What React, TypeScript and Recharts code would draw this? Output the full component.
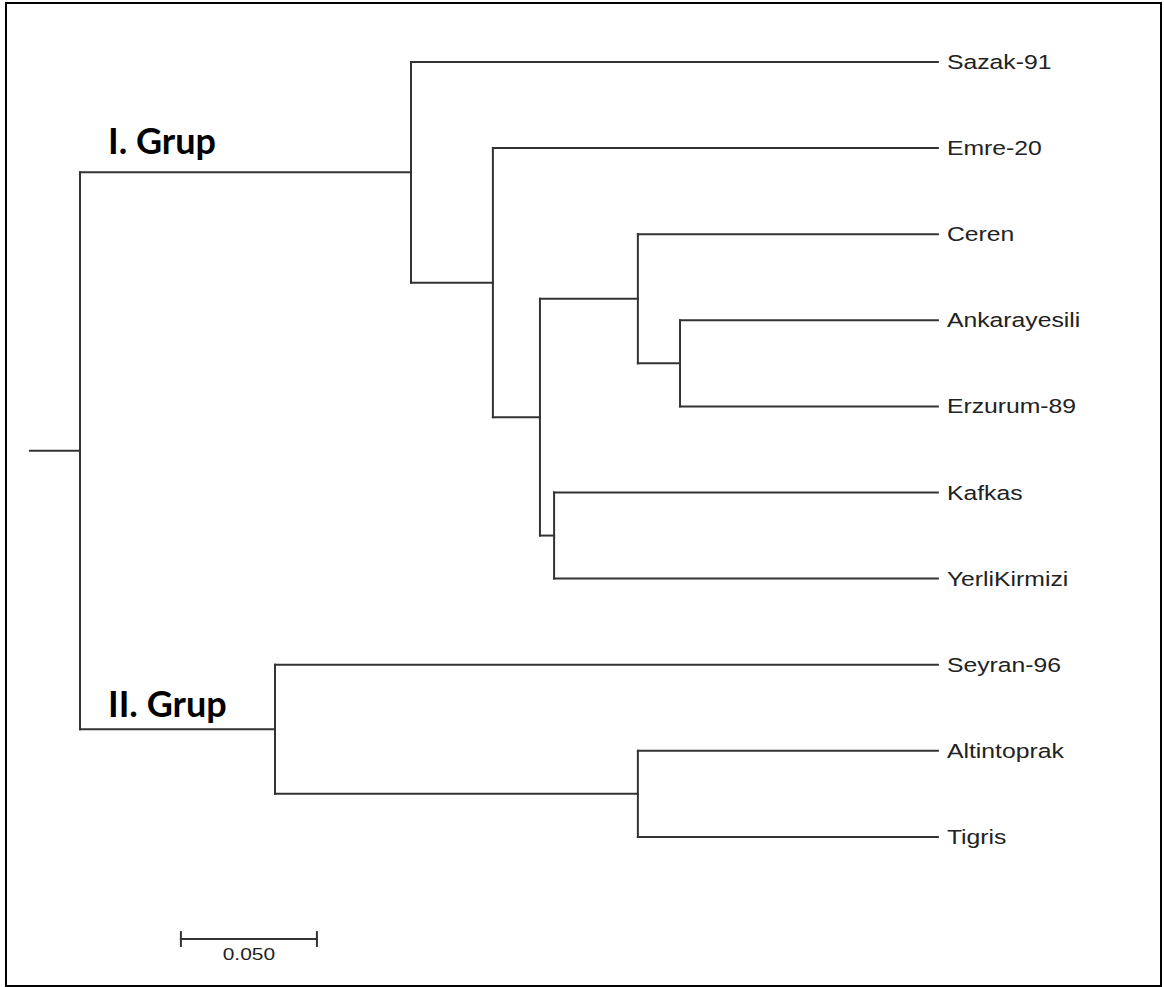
import React from "react";
import { ScatterChart, Scatter, XAxis, YAxis, ReferenceLine } from "recharts";

// leaves top to bottom
const leafNames = [
  "Sazak-91",
  "Emre-20",
  "Ceren",
  "Ankarayesili",
  "Erzurum-89",
  "Kafkas",
  "YerliKirmizi",
  "Seyran-96",
  "Altintoprak",
  "Tigris",
];
const LEAF_DEPTH = 0.3154;

// internal nodes: id, distance from root, children
const nodeIds = ["root", "g1", "n1", "n2", "n3", "n4", "n5", "g2", "n6"];
const nodeDepths = [0, 0.1217, 0.1518, 0.1691, 0.2051, 0.2206, 0.1743, 0.0717, 0.2051];
const nodeChildren = [
  ["g1", "g2"],
  ["Sazak-91", "n1"],
  ["Emre-20", "n2"],
  ["n3", "n5"],
  ["Ceren", "n4"],
  ["Ankarayesili", "Erzurum-89"],
  ["Kafkas", "YerliKirmizi"],
  ["Seyran-96", "n6"],
  ["Altintoprak", "Tigris"],
];
const ROOT_STUB = -0.0184;

const groupNames = ["I. Grup", "II. Grup"];
const groupNodes = ["g1", "g2"];

const SCALE_LEN = 0.05;
const SCALE_LABEL = "0.050";
const SCALE_START = 0.0371;
const SCALE_ROW = 10.186;

// styles
const W = 1164;
const H = 987;
const LINE = "#333";
const X_DOMAIN: [number, number] = [-0.02941, 0.39853];
const Y_DOMAIN: [number, number] = [-0.72, 10.743];
const GROUP_DY = [-18, -12];

const depthOf: Record<string, number> = {};
const rowOf: Record<string, number> = {};
leafNames.forEach((n, i) => {
  depthOf[n] = LEAF_DEPTH;
  rowOf[n] = i;
});
nodeIds.forEach((id, i) => {
  depthOf[id] = nodeDepths[i];
});
function rowFor(id: string): number {
  if (rowOf[id] !== undefined) return rowOf[id];
  const i = nodeIds.indexOf(id);
  const [a, b] = nodeChildren[i];
  rowOf[id] = (rowFor(a) + rowFor(b)) / 2;
  return rowOf[id];
}
nodeIds.forEach((id) => rowFor(id));

type Seg = { x1: number; y1: number; x2: number; y2: number };
const segments: Seg[] = [];
nodeIds.forEach((id, i) => {
  const d = depthOf[id];
  const ys = nodeChildren[i].map((c) => rowOf[c]);
  segments.push({ x1: d, y1: Math.min(...ys), x2: d, y2: Math.max(...ys) });
  nodeChildren[i].forEach((c) => {
    segments.push({ x1: d, y1: rowOf[c], x2: depthOf[c], y2: rowOf[c] });
  });
});
segments.push({ x1: ROOT_STUB, y1: rowOf["root"], x2: 0, y2: rowOf["root"] });

const scaleSegs: Seg[] = [
  { x1: SCALE_START, y1: SCALE_ROW, x2: SCALE_START + SCALE_LEN, y2: SCALE_ROW },
  { x1: SCALE_START, y1: SCALE_ROW - 0.08, x2: SCALE_START, y2: SCALE_ROW + 0.08 },
  {
    x1: SCALE_START + SCALE_LEN,
    y1: SCALE_ROW - 0.08,
    x2: SCALE_START + SCALE_LEN,
    y2: SCALE_ROW + 0.08,
  },
];

const leafPoints = leafNames.map((name) => ({ x: LEAF_DEPTH, y: rowOf[name], name }));
const groupPoints = groupNames.map((name, i) => ({
  x: 0,
  y: rowOf[groupNodes[i]],
  name,
  dy: GROUP_DY[i],
}));
const scalePoints = [{ x: SCALE_START + SCALE_LEN / 2, y: SCALE_ROW, name: SCALE_LABEL }];

const LeafLabel = (props: any) => {
  const { cx, cy, payload } = props;
  return (
    <text
      transform={`translate(${cx + 9},${cy + 7}) scale(1.27,1)`}
      fontFamily="'Liberation Sans', Arial, sans-serif"
      fontSize={19.5}
      fill="#222"
    >
      {payload.name}
    </text>
  );
};

const GroupLabel = (props: any) => {
  const { cx, cy, payload } = props;
  return (
    <text
      x={cx + 28}
      y={cy + payload.dy}
      fontFamily="Lato, 'Open Sans', sans-serif"
      fontWeight={700}
      fontSize={36}
      fill="#000"
    >
      {payload.name}
    </text>
  );
};

const ScaleLabel = (props: any) => {
  const { cx, cy, payload } = props;
  return (
    <text
      transform={`translate(${cx},${cy + 21}) scale(1.27,1)`}
      textAnchor="middle"
      fontFamily="'Liberation Sans', Arial, sans-serif"
      fontSize={16.5}
      fill="#222"
    >
      {payload.name}
    </text>
  );
};

export default function App() {
  return (
    <div
      style={{
        position: "absolute",
        left: 0,
        top: 0,
        width: W,
        height: H,
        background: "#fff",
      }}
    >
      <ScatterChart width={W} height={H} margin={{ top: 0, right: 0, bottom: 0, left: 0 }}>
        <XAxis type="number" dataKey="x" domain={X_DOMAIN} hide allowDataOverflow />
        <YAxis type="number" dataKey="y" domain={Y_DOMAIN} reversed hide allowDataOverflow />
        {segments.concat(scaleSegs).map((s, i) => (
          <ReferenceLine
            key={i}
            segment={[
              { x: s.x1, y: s.y1 },
              { x: s.x2, y: s.y2 },
            ]}
            stroke={LINE}
            strokeWidth={2}
            strokeLinecap="square"
            ifOverflow="visible"
          />
        ))}
        <Scatter data={leafPoints} shape={LeafLabel} isAnimationActive={false} />
        <Scatter data={groupPoints} shape={GroupLabel} isAnimationActive={false} />
        <Scatter data={scalePoints} shape={ScaleLabel} isAnimationActive={false} />
      </ScatterChart>
      <div
        style={{
          position: "absolute",
          left: 5,
          top: 2,
          width: 1157,
          height: 985,
          border: "2.5px solid #000",
          boxSizing: "border-box",
          pointerEvents: "none",
        }}
      />
    </div>
  );
}
